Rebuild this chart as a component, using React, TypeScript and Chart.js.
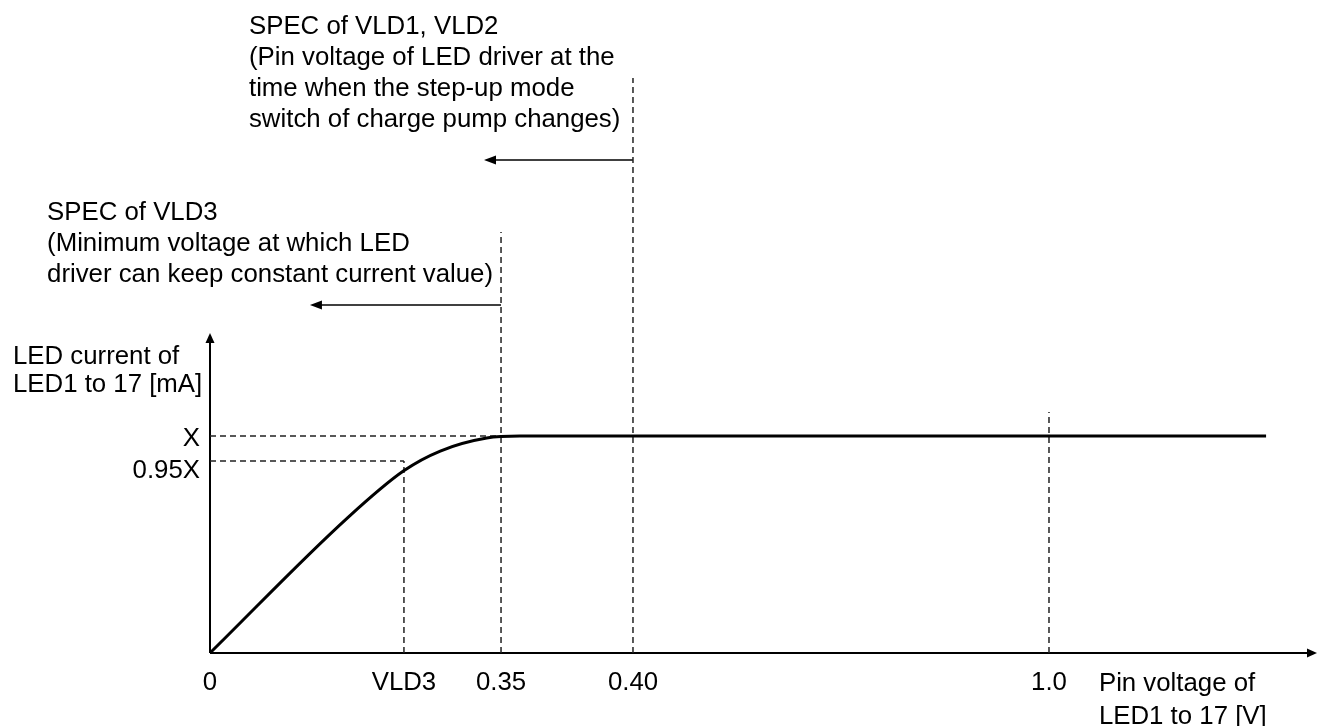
import React, { useEffect, useRef } from 'react';
import { Chart, registerables } from 'chart.js';

Chart.register(...registerables);

const W = 1318;
const H = 726;

// x: schematic position along the voltage axis (0..100 = axis length)
// y: LED current in units of X
const curveX = [0, 12.4, 17.5, 20.8, 25, 28, 95.4];
const curveY = [0, 0.622, 0.84, 0.931, 0.991, 1.0, 1.0];

const xTickValues = [0, 17.52, 26.29, 38.21, 75.79];
const xTickLabels = ['0', 'VLD3', '0.35', '0.40', '1.0'];

const yTickValues = [1.0, 0.885];
const yTickLabels = ['X', '0.95X'];

// horizontal dashed level lines (from the y axis to levelEndX)
const levelY = [1.0, 0.885];
const levelEndX = [28.6, 17.52];

// vertical dashed marker lines (from the x axis up to markerTopY)
const markerX = [17.52, 26.29, 38.21, 75.79];
const markerTopY = [0.885, 1.941, 2.651, 1.111];

// left-pointing annotation arrows
const arrowFromX = [38.21, 26.29];
const arrowToX = [24.75, 9.03];
const arrowY = [2.273, 1.604];

const axisEndX = 100;
const axisEndY = 1.475;

const noteVLD12 = [
  'SPEC of VLD1, VLD2',
  '(Pin voltage of LED driver at the',
  'time when the step-up mode',
  'switch of charge pump changes)',
];
const noteVLD12Pos = [3.52, 2.886];

const noteVLD3 = [
  'SPEC of VLD3',
  '(Minimum voltage at which LED',
  'driver can keep constant current value)',
];
const noteVLD3Pos = [-14.72, 2.029];

const yTitle = ['LED current of', 'LED1 to 17 [mA]'];
const yTitlePos = [-17.8, 1.365];

const xTitle = ['Pin voltage of', 'LED1 to 17 [V]'];
const xTitlePos = [80.3, -0.143];

const FONT = '25.8px "Liberation Sans", Arial, Helvetica, sans-serif';

function arrowHead(ctx: CanvasRenderingContext2D, tx: number, ty: number, dx: number, dy: number, len: number, hw: number) {
  const bx = tx - dx * len;
  const by = ty - dy * len;
  const nx = -dy;
  const ny = dx;
  ctx.beginPath();
  ctx.moveTo(tx, ty);
  ctx.lineTo(bx + nx * hw, by + ny * hw);
  ctx.lineTo(bx - nx * hw, by - ny * hw);
  ctx.closePath();
  ctx.fill();
}

const schematicPlugin = {
  id: 'schematic',
  beforeDatasetsDraw(chart: any) {
    const { ctx, scales } = chart;
    const px = (v: number) => scales.x.getPixelForValue(v);
    const py = (v: number) => scales.y.getPixelForValue(v);
    ctx.save();
    ctx.strokeStyle = '#000';
    ctx.fillStyle = '#000';
    ctx.lineWidth = 2;
    // x axis
    ctx.beginPath();
    ctx.moveTo(px(0), py(0));
    ctx.lineTo(px(axisEndX) - 8, py(0));
    ctx.stroke();
    arrowHead(ctx, px(axisEndX), py(0), 1, 0, 10, 4.5);
    // y axis
    ctx.beginPath();
    ctx.moveTo(px(0), py(0));
    ctx.lineTo(px(0), py(axisEndY) + 8);
    ctx.stroke();
    arrowHead(ctx, px(0), py(axisEndY), 0, -1, 10, 4.5);
    // annotation arrows
    ctx.lineWidth = 1.5;
    for (let i = 0; i < arrowFromX.length; i++) {
      const yy = py(arrowY[i]);
      ctx.beginPath();
      ctx.moveTo(px(arrowFromX[i]), yy);
      ctx.lineTo(px(arrowToX[i]) + 10, yy);
      ctx.stroke();
      arrowHead(ctx, px(arrowToX[i]), yy, -1, 0, 12, 4.5);
    }
    ctx.restore();
  },
  afterDatasetsDraw(chart: any) {
    const { ctx, scales } = chart;
    const px = (v: number) => scales.x.getPixelForValue(v);
    const py = (v: number) => scales.y.getPixelForValue(v);
    ctx.save();
    ctx.font = FONT;
    ctx.fillStyle = '#000';
    ctx.textBaseline = 'middle';
    // x tick labels
    ctx.textAlign = 'center';
    xTickLabels.forEach((t, i) => ctx.fillText(t, px(xTickValues[i]), py(0) + 30));
    // y tick labels
    ctx.textAlign = 'right';
    const yOff = [3, 10];
    yTickLabels.forEach((t, i) => ctx.fillText(t, px(0) - 10, py(yTickValues[i]) + yOff[i]));
    // multi-line texts
    ctx.textAlign = 'left';
    const block = (lines: string[], pos: number[], lh: number) => {
      lines.forEach((t, i) => ctx.fillText(t, px(pos[0]), py(pos[1]) + i * lh));
    };
    block(noteVLD12, noteVLD12Pos, 31);
    block(noteVLD3, noteVLD3Pos, 31);
    block(yTitle, yTitlePos, 28);
    block(xTitle, xTitlePos, 33);
    ctx.restore();
  },
};

export default function App() {
  const ref = useRef<HTMLCanvasElement | null>(null);

  useEffect(() => {
    if (!ref.current) return;
    const dash = [6, 4];
    const guideColor = '#222';
    const datasets: any[] = [];
    datasets.push({
      data: curveX.map((x, i) => ({ x, y: curveY[i] })),
      borderColor: '#000',
      borderWidth: 3,
      showLine: true,
      pointRadius: 0,
      cubicInterpolationMode: 'monotone',
      clip: false,
      order: 0,
    });
    levelY.forEach((yv, i) => {
      datasets.push({
        data: [{ x: 0, y: yv }, { x: levelEndX[i], y: yv }],
        borderColor: guideColor,
        borderWidth: 1.5,
        borderDash: dash,
        showLine: true,
        pointRadius: 0,
        clip: false,
        order: 1,
      });
    });
    markerX.forEach((xv, i) => {
      datasets.push({
        data: [{ x: xv, y: 0 }, { x: xv, y: markerTopY[i] }],
        borderColor: guideColor,
        borderWidth: 1.5,
        borderDash: dash,
        showLine: true,
        pointRadius: 0,
        clip: false,
        order: 1,
      });
    });

    const chart = new Chart(ref.current, {
      type: 'scatter',
      data: { datasets },
      options: {
        responsive: false,
        animation: false,
        events: [],
        layout: { padding: { left: 210, right: 1, top: 24, bottom: 73 } },
        plugins: { legend: { display: false }, tooltip: { enabled: false }, title: { display: false } },
        scales: {
          x: { type: 'linear', min: 0, max: axisEndX, display: false },
          y: { type: 'linear', min: 0, max: 2.9, display: false },
        },
      },
      plugins: [schematicPlugin],
    } as any);
    return () => chart.destroy();
  }, []);

  return (
    <canvas
      ref={ref}
      width={W}
      height={H}
      style={{ position: 'absolute', left: 0, top: 0, width: W, height: H, background: '#fff' }}
    />
  );
}
